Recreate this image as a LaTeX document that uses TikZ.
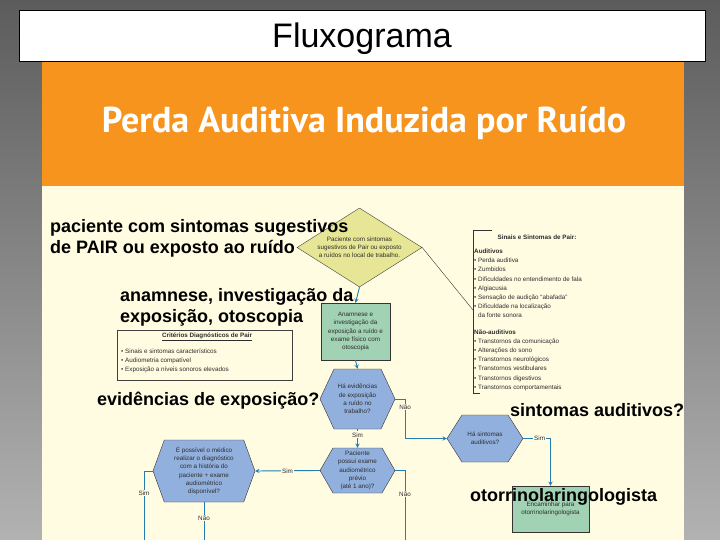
\documentclass[tikz,border=0pt]{standalone}
\usepackage{fontspec}
\setmainfont{Liberation Sans}
\newfontfamily\cabecalhofont{PT Sans}
\usetikzlibrary{shapes.geometric,shapes.symbols,positioning}

\definecolor{fundoalto}{RGB}{92,92,92}
\definecolor{fundobaixo}{RGB}{178,178,178}
\definecolor{laranja}{RGB}{247,148,30}
\definecolor{creme}{RGB}{255,252,226}
\definecolor{losango}{RGB}{230,230,150}
\definecolor{hexazul}{RGB}{146,176,222}
\definecolor{caixaverde}{RGB}{162,210,180}
\definecolor{seta}{RGB}{35,125,175}
\definecolor{textinho}{RGB}{45,45,45}

\newcommand{\miudo}{\fontsize{6.3}{8.2}\selectfont}
\newcommand{\grande}{\fontsize{18}{21}\selectfont\bfseries}

\tikzset{
	fluxo/.style={draw=seta, line width=0.9pt},
	fluxoseta/.style={fluxo, -stealth},
	rotulo/.style={fill=creme, inner sep=1pt, font=\miudo, text=textinho},
	hexagono/.style={signal, signal to=west and east, draw=black!80, fill=hexazul, inner sep=0pt, font=\miudo, text=textinho, align=center},
	caixa/.style={rectangle, draw=black!80, fill=caixaverde, inner sep=0pt, font=\miudo, text=textinho, align=center},
	sobreposto/.style={font=\grande, anchor=base west, inner sep=0pt},
}

\begin{document}
\begin{tikzpicture}[x=1pt, y=-1pt]
	\useasboundingbox (0,0) rectangle (720,540);
	\shade[top color=fundoalto, bottom color=fundobaixo] (0,0) rectangle (720,540);
	\fill[creme] (42,186) rectangle (684,540);
	\fill[laranja] (42,50) rectangle (684,186);
	
	\node[draw, fill=white, minimum width=686, minimum height=51, text depth=0pt, font=\fontsize{34}{40}\selectfont] (titulo) at (362,35.5) {Fluxograma};
	\node[font=\cabecalhofont\bfseries\fontsize{36}{40}\selectfont, text=white] (cabecalho) at (364,123) {Perda Auditiva Induzida por Ruído};
	
	% fluxograma
	\node[diamond, draw=black!75, fill=losango, minimum width=125, minimum height=79, inner sep=0pt,
		label={[font=\miudo, align=center, text=textinho]center:Paciente com sintomas\\sugestivos de Pair ou exposto\\a ruídos no local de trabalho.}] (suspeita) at (359.5,247.5) {};
	\node[caixa, minimum width=69, minimum height=57] (anamnese) at (355.5,331.5) {Anamnese e\\investigação da\\exposição a ruído e\\exame físico com\\otoscopia};
	\node[hexagono, minimum width=75, minimum height=60, signal pointer angle=130] (exposicao) at (357.5,399) {Há evidências\\de exposição\\a ruído no\\trabalho?};
	\node[hexagono, minimum width=75, minimum height=45, signal pointer angle=120] (audioprevio) at (357.5,470.5) {Paciente\\possui exame\\audiométrico\\prévio\\(até 1 ano)?};
	\node[hexagono, minimum width=102, minimum height=62, signal pointer angle=140] (diagnostico) at (204,471) {É possível o médico\\realizar o diagnóstico\\com a história do\\paciente + exame\\audiométrico\\disponível?};
	\node[hexagono, minimum width=76, minimum height=47, signal pointer angle=115] (sintomas) at (485,438.5) {Há sintomas\\auditivos?};
	\node[caixa, minimum width=77, minimum height=46] (encaminhar) at (550.5,509) {Encaminhar para\\otorrinolaringologista};
	
	\coordinate (fimnao) at (405,540);
	\coordinate (fimsim) at (144,540);
	\coordinate (fimdiag) at (204,540);
	\coordinate (chave) at (473,310);
	
	\draw[fluxoseta] (suspeita.south) -- (anamnese.north);
	\draw[fluxoseta] (anamnese.south) -- (exposicao.north);
	\draw[fluxoseta] (exposicao.south) -- node[rotulo, pos=0.3] {Sim} (audioprevio.north);
	\draw[fluxoseta] (audioprevio.west) -- node[rotulo] {Sim} (diagnostico.east);
	\draw[fluxoseta] (exposicao.east) -- ++(10,0) |- node[rotulo, pos=0.1] {Não} (sintomas.west);
	\draw[fluxoseta] (sintomas.east) -| node[rotulo, pos=0.3] {Sim} (encaminhar.north);
	\draw[fluxo] (audioprevio.east) -| node[rotulo, pos=0.67] {Não} (fimnao);
	\draw[fluxo] (diagnostico.west) -| node[rotulo, pos=0.66] {Sim} (fimsim);
	\draw[fluxo] (diagnostico.south) -- node[rotulo, pos=0.42] {Não} (fimdiag);
	
	% sinais e sintomas
	\draw[black!80] (suspeita.east) -- (chave);
	\draw[black!80] (492,230) -- (473,230) -- (473,393) -- (480,393);
	\node[font=\miudo\bfseries, text=textinho] (sinaistitulo) at (537,237) {Sinais e Sintomas de Pair:};
	\node[anchor=north west, inner sep=0pt, font=\fontsize{6.3}{9.1}\selectfont, text=textinho, align=left] (listasintomas) at (474,249) {\textbf{Auditivos}\\
		\textbullet\ Perda auditiva\\
		\textbullet\ Zumbidos\\
		\textbullet\ Dificuldades no entendimento de fala\\
		\textbullet\ Algiacusia\\
		\textbullet\ Sensação de audição ``abafada''\\
		\textbullet\ Dificuldade na localização\\
		\hphantom{\textbullet\ }da fonte sonora\\[8pt]
		\textbf{Não-auditivos}\\
		\textbullet\ Transtornos da comunicação\\
		\textbullet\ Alterações do sono\\
		\textbullet\ Transtornos neurológicos\\
		\textbullet\ Transtornos vestibulares\\
		\textbullet\ Transtornos digestivos\\
		\textbullet\ Transtornos comportamentais};
	
	% criterios
	\node[draw=black!75, fill=creme, minimum width=175, minimum height=50, inner sep=0pt] (criterios) at (204.5,355) {};
	\node[font=\miudo\bfseries, text=textinho] (criteriostitulo) at (207,337) {\underline{Critérios Diagnósticos de Pair}};
	\node[anchor=north west, inner sep=0pt, font=\fontsize{6.3}{8.6}\selectfont, text=textinho, align=left] (criteriositens) at (121,349) {\textbullet\ Sinais e sintomas característicos\\
		\textbullet\ Audiometria compatível\\
		\textbullet\ Exposição a níveis sonoros elevados};
	
	% textos sobrepostos
	\node[sobreposto] (txtpaciente) at (50,233) {paciente com sintomas sugestivos};
	\node[sobreposto] (txtpair) at (50,254) {de PAIR ou exposto ao ruído};
	\node[sobreposto] (txtanamnese) at (120,301) {anamnese, investigação da};
	\node[sobreposto] (txtotoscopia) at (120,322) {exposição, otoscopia};
	\node[sobreposto] (txtevidencias) at (97,405) {evidências de exposição?};
	\node[sobreposto] (txtsintomas) at (510,416) {sintomas auditivos?};
	\node[sobreposto] (txtotorrino) at (470,501) {otorrinolaringologista};
\end{tikzpicture}
\end{document}
